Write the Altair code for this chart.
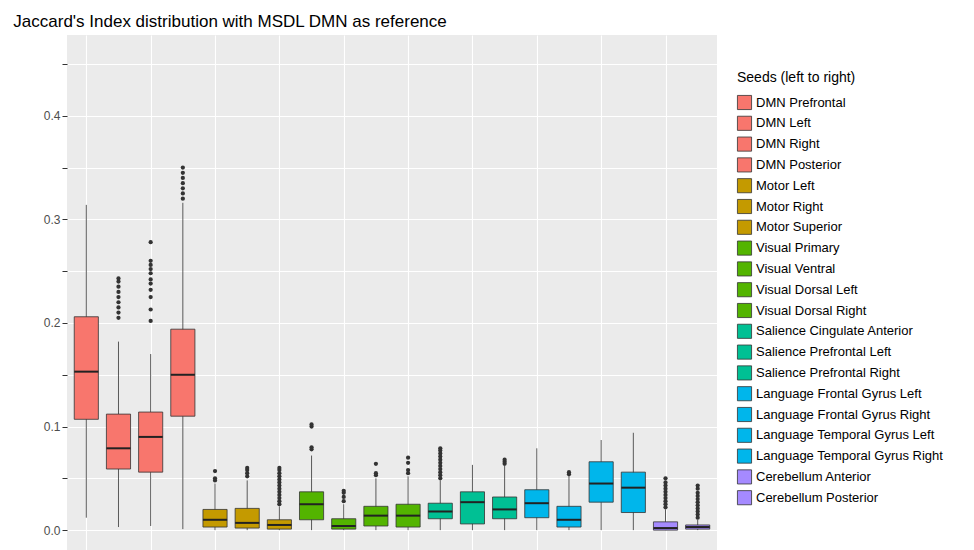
import pandas as pd
import altair as alt

seeds = ["DMN Prefrontal", "DMN Left", "DMN Right", "DMN Posterior",
         "Motor Left", "Motor Right", "Motor Superior",
         "Visual Primary", "Visual Ventral", "Visual Dorsal Left", "Visual Dorsal Right",
         "Salience Cingulate Anterior", "Salience Prefrontal Left", "Salience Prefrontal Right",
         "Language Frontal Gyrus Left", "Language Frontal Gyrus Right",
         "Language Temporal Gyrus Left", "Language Temporal Gyrus Right",
         "Cerebellum Anterior", "Cerebellum Posterior"]
colors = ["#F8766D"] * 4 + ["#C49A00"] * 3 + ["#53B400"] * 4 + ["#00C094"] * 3 + ["#00B6EB"] * 4 + ["#A58AFF"] * 2

low = [0.012, 0.003, 0.004, 0.001, 0.0, 0.0, 0.0, 0.0, 0.0, 0.0, 0.0, 0.0, 0.0, 0.0, 0.0, 0.0, 0.0, 0.0, 0.0, 0.0]
q1 = [0.107, 0.059, 0.056, 0.110, 0.003, 0.002, 0.001, 0.010, 0.001, 0.004, 0.003, 0.011, 0.006, 0.011, 0.012, 0.003, 0.027, 0.017, 0.0, 0.001]
med = [0.153, 0.079, 0.090, 0.150, 0.010, 0.007, 0.005, 0.025, 0.004, 0.014, 0.014, 0.018, 0.027, 0.020, 0.026, 0.010, 0.045, 0.041, 0.002, 0.003]
q3 = [0.206, 0.112, 0.114, 0.194, 0.020, 0.021, 0.010, 0.037, 0.011, 0.023, 0.025, 0.026, 0.037, 0.032, 0.039, 0.023, 0.066, 0.056, 0.008, 0.005]
high = [0.314, 0.182, 0.170, 0.316, 0.045, 0.048, 0.023, 0.072, 0.025, 0.050, 0.052, 0.048, 0.063, 0.062, 0.079, 0.053, 0.087, 0.094, 0.020, 0.010]
outliers = [
    [],
    [0.205, 0.21, 0.215, 0.22, 0.225, 0.23, 0.235, 0.24, 0.243],
    [0.202, 0.213, 0.225, 0.232, 0.238, 0.242, 0.248, 0.252, 0.256, 0.26, 0.278],
    [0.32, 0.325, 0.33, 0.335, 0.34, 0.345, 0.35],
    [0.048, 0.05, 0.057],
    [0.052, 0.055, 0.058, 0.06],
    [0.025, 0.028, 0.031, 0.034, 0.037, 0.04, 0.043, 0.046, 0.049, 0.052, 0.055, 0.058, 0.06],
    [0.078, 0.08, 0.1, 0.102],
    [0.028, 0.032, 0.036, 0.038],
    [0.053, 0.055, 0.064],
    [0.055, 0.058, 0.065, 0.07],
    [0.05, 0.053, 0.056, 0.059, 0.062, 0.065, 0.068, 0.071, 0.074, 0.077, 0.079],
    [],
    [0.064, 0.066, 0.068],
    [],
    [0.054, 0.056],
    [],
    [],
    [0.022, 0.025, 0.028, 0.031, 0.034, 0.037, 0.04, 0.043, 0.046, 0.05],
    [0.012, 0.015, 0.018, 0.021, 0.024, 0.027, 0.03, 0.033, 0.036, 0.04, 0.043],
]

df = pd.DataFrame({"seed": seeds, "i": range(1, 21), "low": low, "q1": q1,
                   "med": med, "q3": q3, "high": high})
df["l"] = df["i"] - 0.375
df["r"] = df["i"] + 0.375
out = pd.DataFrame([(i + 1, v) for i, vals in enumerate(outliers) for v in vals], columns=["i", "v"])

xsc = alt.Scale(domain=[0.4, 20.6], nice=False, zero=False)
ysc = alt.Scale(domain=[-0.024, 0.478], nice=False, zero=False)
grid_vals = [round(0.05 * k, 2) for k in range(10)]
xax = alt.Axis(values=list(range(1, 21)), labels=False, ticks=False, title=None, domain=False,
               gridColor="white", gridWidth=1.1, gridOpacity=1)
yax = alt.Axis(values=grid_vals, title=None, domain=False, gridColor="white", gridOpacity=1,
               labelExpr="(round(datum.value*100) % 10 == 0) ? format(datum.value, '.1f') : ''",
               tickColor="#333", labelColor="#4D4D4D", labelFontSize=12)

W, H = 650, 520
base = alt.Chart(df)
whisk = base.mark_rule(color="#333", strokeWidth=0.8).encode(
    x=alt.X("i:Q", scale=xsc, axis=xax), y=alt.Y("low:Q", scale=ysc, axis=yax), y2="high:Q")
box = base.mark_rect(stroke="#333", strokeWidth=0.8).encode(
    x="l:Q", x2="r:Q", y="q1:Q", y2="q3:Q",
    color=alt.Color("seed:N", sort=seeds, scale=alt.Scale(domain=seeds, range=colors),
                    legend=alt.Legend(title="Seeds (left to right)", symbolType="square",
                                      symbolStrokeColor="#333", symbolStrokeWidth=0.8,
                                      symbolSize=200, labelFontSize=13, titleFontSize=14,
                                      titleFontWeight="normal", labelColor="black",
                                      labelLimit=300, titlePadding=10, rowPadding=1.8,
                                      orient="none", legendX=W + 20, legendY=36)))
median = base.mark_rule(color="#222", strokeWidth=2).encode(x="l:Q", x2="r:Q", y="med:Q")
pts = alt.Chart(out).mark_circle(color="#333", size=18, opacity=1).encode(x="i:Q", y="v:Q")

chart = (whisk + box + median + pts).properties(
    width=W, height=H, padding={"left": 5, "top": 5, "right": 5, "bottom": 0},
    title=alt.Title("Jaccard's Index distribution with MSDL DMN as reference", anchor="start",
                    fontSize=17, fontWeight="normal", offset=4, dx=-30)
).configure(font="Liberation Sans", view=alt.ViewConfig(fill="#EBEBEB", stroke=None))

chart.save("out.html", embed_options={"renderer": "svg", "actions": False})
